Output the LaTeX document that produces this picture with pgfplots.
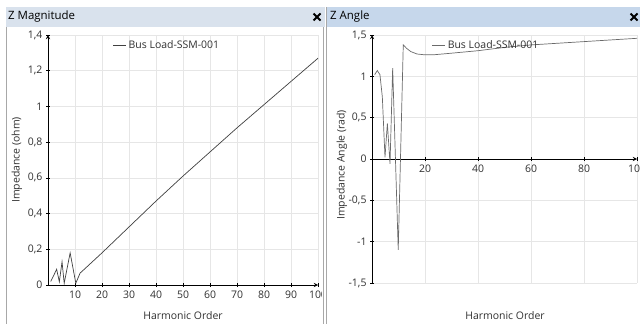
\documentclass[border=0pt]{standalone}
\usepackage{pgfplots}
\pgfplotsset{compat=1.18}
\usepackage{fontspec}
\setmainfont{Open Sans}
\definecolor{gridc}{HTML}{E6E6E6}
\definecolor{textc}{HTML}{303030}
\definecolor{titleL}{HTML}{D9E2ED}
\definecolor{titleR}{HTML}{C6D7EB}
\definecolor{bordc}{HTML}{A8A8A8}
\definecolor{lineL}{HTML}{404040}
\definecolor{lineR}{HTML}{6A6A6A}
\pgfplotsset{
  panel/.style={
    scale only axis,
    axis line style={-, black, line width=0.9bp},
    grid=major, major grid style={gridc, line width=0.7bp},
    tick style={black, line width=0.7bp}, major tick length=4bp,
    /pgf/number format/use comma,
    /pgf/number format/assume math mode=true,
    ticklabel style={font=\fontsize{10.5}{12}\selectfont, text=textc},
    legend style={draw=none, fill=none, inner sep=0pt, font=\fontsize{10.5}{12}\selectfont, text=textc, legend cell align=left},
    legend image code/.code={\draw[#1] (0bp,0bp) -- (13bp,0bp);},
    hide obscured x ticks=false, hide obscured y ticks=false,
    clip=true,
  }
}
\begin{document}
\begin{tikzpicture}
\useasboundingbox (0bp,0bp) rectangle (640bp,324bp);
\fill[white] (0bp,0bp) rectangle (640bp,324bp);
\fill[titleL] (6bp,297bp) rectangle (325bp,317bp);
\fill[titleR] (327bp,297bp) rectangle (640bp,317bp);

\begin{axis}[panel, at={(48bp,39bp)}, anchor=south west, width=270bp, height=250bp,
  xmin=0, xmax=100, ymin=0, ymax=1.4,
  axis lines=left,
  xtick={10,20,30,40,50,60,70,80,90,100},
  ytick={0,0.2,0.4,0.6,0.8,1,1.2,1.4},
  legend style={at={(rel axis cs:0.24,0.96)}, anchor=west}]
\addplot[lineL, line width=0.7bp] coordinates {
(1,0.02) (2,0.05) (3.2,0.088) (4.2,0.018) (5.2,0.13) (6,0.01) (8.2,0.18) (10.3,0.01)
(11.9,0.067) (12.5,0.075) (20,0.18) (30,0.325) (40,0.47) (50,0.61) (60,0.745)
(70,0.88) (80,1.01) (90,1.14) (100,1.27)};
\addlegendentry{Bus Load-SSM-001}
\end{axis}

\begin{axis}[panel, at={(372bp,41bp)}, anchor=south west, width=265bp, height=248bp,
  xmin=0, xmax=100, ymin=-1.5, ymax=1.5,
  axis x line=middle, axis y line=left,
  xtick={20,40,60,80,100},
  ytick={-1.5,-1,-0.5,0,0.5,1,1.5},
  legend style={at={(rel axis cs:0.226,0.96)}, anchor=west}]
\addplot[lineR, line width=0.7bp] coordinates {
(1,1.02) (2,1.07) (3,1.02) (3.9,0.75) (4.9,0.02) (5.8,0.43) (6.8,-0.06) (7.8,1.10)
(9.9,-1.10) (11.8,1.38) (13,1.34) (14.6,1.30) (17,1.27) (20,1.26) (23,1.26)
(30,1.28) (40,1.31) (50,1.35) (60,1.38) (70,1.40) (80,1.42) (90,1.44) (100,1.46)};
\addlegendentry{Bus Load-SSM-001}
\end{axis}

% cover overflow of left "100"
\fill[white] (321.5bp,0bp) rectangle (326.5bp,296bp);
% borders
\draw[bordc, line width=0.8bp] (6.5bp,0bp) -- (6.5bp,297bp);
\draw[bordc, line width=1bp] (323.5bp,0bp) -- (323.5bp,297bp);
\draw[bordc, line width=1bp] (326.5bp,0bp) -- (326.5bp,317bp);
% titles
\node[anchor=west, font=\fontsize{11.5}{13}\selectfont, text=black, inner sep=0pt] at (8bp,307bp) {Z Magnitude};
\node[anchor=west, font=\fontsize{11.5}{13}\selectfont, text=black, inner sep=0pt] at (330bp,307bp) {Z Angle};
\draw[black, line width=1.8bp] (313.5bp,303.5bp) -- (320.5bp,310.5bp) (313.5bp,310.5bp) -- (320.5bp,303.5bp);
\draw[black, line width=1.8bp] (630.5bp,303.5bp) -- (637.5bp,310.5bp) (630.5bp,310.5bp) -- (637.5bp,303.5bp);
% axis labels
\node[rotate=90, font=\fontsize{10.5}{12}\selectfont, text=textc] at (17bp,164bp) {Impedance (ohm)};
\node[font=\fontsize{10.5}{12}\selectfont, text=textc] at (183bp,8bp) {Harmonic Order};
\node[rotate=90, font=\fontsize{10.5}{12}\selectfont, text=textc] at (342bp,159bp) {Impedance Angle (rad)};
\node[font=\fontsize{10.5}{12}\selectfont, text=textc] at (505bp,8bp) {Harmonic Order};
\end{tikzpicture}
\end{document}
